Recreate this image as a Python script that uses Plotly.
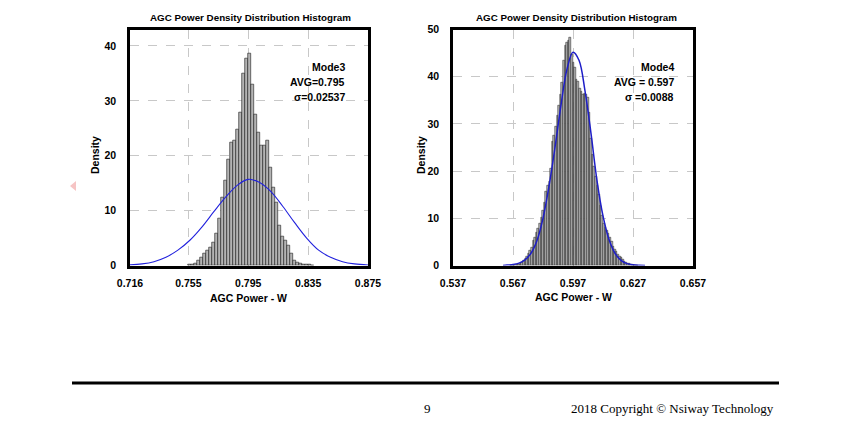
import plotly.graph_objects as go
import numpy as np

# page is rendered with the browser's default 8px body margin
OFF = 8
W, H = 850 - OFF, 427 - OFF

# ---------------- data ----------------
title_text = "AGC Power Density Distribution Histogram"
x_title = "AGC Power - W"
y_title = "Density"

# Mode3 histogram (density per bin)
m3_bin_start = 0.756
m3_bin_width = 0.002
m3_density = [0.1, 0.2, 0.4, 0.9, 1.5, 2.1, 2.7, 3.3, 4.2, 5.8, 8.6, 12.4, 15.5, 19.4,
              22.4, 22.8, 24.8, 27.9, 35.0, 37.7, 38.7, 33.0, 27.5, 24.3, 21.8, 21.8,
              22.7, 17.9, 14.2, 11.5, 7.3, 5.2, 4.5, 3.6, 2.1, 0.9, 0.5, 0.3, 0.2,
              0.15, 0.1, 0.05]
# Mode3 fitted curve
m3_curve_x = [0.716, 0.724, 0.732, 0.740, 0.748, 0.756, 0.764, 0.772, 0.780, 0.788,
              0.795, 0.802, 0.810, 0.818, 0.826, 0.834, 0.842, 0.850, 0.858, 0.866, 0.875]
m3_curve_y = [0.12, 0.3, 0.7, 1.5, 2.8, 4.6, 7.0, 9.8, 12.5, 14.7,
              15.7, 15.2, 13.5, 10.8, 7.8, 5.0, 2.8, 1.5, 0.7, 0.3, 0.1]
m3_ticks = [0.716, 0.755, 0.795, 0.835, 0.875]
m3_ticktext = ["0.716", "0.755", "0.795", "0.835", "0.875"]
m3_yticks = [0, 10, 20, 30, 40]
m3_notes = ["Mode3", "AVG=0.795", "σ=0.02537"]

# Mode4 histogram
m4_bin_start = 0.5660
m4_bin_width = 0.0008
m4_density = [0.05, 0.1, 0.1, 0.15, 0.2, 0.3, 0.4, 0.7, 1.0, 1.4, 1.9, 2.5, 3.1, 3.9,
              5.3, 6.0, 7.0, 7.8, 8.9, 10.1, 11.6, 13.4, 15.6, 17.0, 17.7,
              20.6, 26.2, 27.5, 29.5, 31.8, 34.0, 36.3, 38.8, 43.5, 46.6, 47.3, 47.6, 48.3,
              44.8, 43.0, 42.0, 39.5, 38.9, 37.5, 36.9, 36.2, 36.5, 36.2, 35.5,
              32.5, 27.0, 23.5, 21.0, 18.8, 17.0, 15.0, 12.8, 10.6, 8.8, 8.1,
              7.4, 6.8, 6.0, 5.0, 4.0, 3.4, 2.9, 2.4, 1.9, 1.6, 1.2, 0.9, 0.7, 0.5,
              0.4, 0.3, 0.2, 0.1, 0.08, 0.05]
m4_curve_x = [0.562, 0.564, 0.567, 0.570, 0.573, 0.576, 0.579, 0.582, 0.585, 0.588,
              0.591, 0.594, 0.597, 0.600, 0.603, 0.606, 0.609, 0.612, 0.615, 0.618,
              0.621, 0.624, 0.627, 0.630, 0.633]
m4_curve_y = [0.0, 0.1, 0.2, 0.5, 1.2, 2.6, 5.3, 10.0, 16.8, 25.0,
              34.0, 41.6, 45.2, 43.5, 37.0, 28.0, 18.0, 10.5, 5.5, 2.6,
              1.1, 0.4, 0.15, 0.05, 0.0]
m4_ticks = [0.537, 0.567, 0.597, 0.627, 0.657]
m4_ticktext = ["0.537", "0.567", "0.597", "0.627", "0.657"]
m4_yticks = [0, 10, 20, 30, 40, 50]
m4_notes = ["Mode4", "AVG = 0.597", "σ =0.0088"]

page_number = "9"
footer_text = "2018 Copyright © Nsiway Technology"

# ---------------- helpers (screen pixels -> paper fractions) ----------------
def px(x):
    return (x - OFF) / W

def py(y):
    return 1 - (y - OFF) / H

FONT = "Liberation Sans, Arial, sans-serif"
SERIF = "Liberation Serif, Times New Roman, serif"
BAR_FILL = "#b4b4b4"
GRID = "#c8c8c8"

m3_centers = m3_bin_start + m3_bin_width * np.arange(len(m3_density))
m4_centers = m4_bin_start + m4_bin_width * np.arange(len(m4_density))

fig = go.Figure()
fig.add_trace(go.Bar(x=m3_centers, y=m3_density, width=m3_bin_width,
                     marker=dict(color=BAR_FILL, line=dict(color="#1a1a1a", width=0.6)),
                     xaxis="x", yaxis="y", showlegend=False))
fig.add_trace(go.Scatter(x=m3_curve_x, y=m3_curve_y, mode="lines", line_shape="spline",
                         line=dict(color="#2222dd", width=1.1),
                         xaxis="x", yaxis="y", showlegend=False))
fig.add_trace(go.Bar(x=m4_centers, y=m4_density, width=m4_bin_width,
                     marker=dict(color=BAR_FILL, line=dict(color="#1a1a1a", width=0.5)),
                     xaxis="x2", yaxis="y2", showlegend=False))
fig.add_trace(go.Scatter(x=m4_curve_x, y=m4_curve_y, mode="lines", line_shape="spline",
                         line=dict(color="#1e1ec8", width=1.5),
                         xaxis="x2", yaxis="y2", showlegend=False))

tickfont = dict(family=FONT, size=10.5, color="black", weight="bold")
ydom = [py(265.5), py(29.5)]

common = dict(showline=True, linecolor="black", linewidth=2.5, mirror=True,
              showgrid=True, gridcolor=GRID, griddash="dash", gridwidth=1,
              zeroline=False, ticks="", tickfont=tickfont, fixedrange=True,
              automargin=False)

fig.update_layout(
    width=W, height=H, autosize=False,
    margin=dict(l=0, r=0, t=0, b=0, pad=0),
    paper_bgcolor="white", plot_bgcolor="white",
    bargap=0,
    xaxis=dict(domain=[px(130), px(368)], range=[0.716, 0.875], anchor="y",
               tickvals=m3_ticks, ticktext=m3_ticktext, ticklabelstandoff=6, **common),
    yaxis=dict(domain=ydom, range=[0, 43], anchor="x", tickvals=m3_yticks,
               ticklabelstandoff=9, **common),
    xaxis2=dict(domain=[px(453), px(693)], range=[0.537, 0.657], anchor="y2",
                tickvals=m4_ticks, ticktext=m4_ticktext, ticklabelstandoff=6, **common),
    yaxis2=dict(domain=ydom, range=[0, 50], anchor="x2", tickvals=m4_yticks,
                ticklabelstandoff=9, **common),
)

ann = []
def text(x, y, s, size=10, anchor="center", font=FONT, bold=True, angle=0):
    f = dict(family=font, size=size, color="black")
    if bold:
        f["weight"] = "bold"
    ann.append(dict(x=px(x), y=py(y), xref="paper", yref="paper", text=s,
                    showarrow=False, xanchor=anchor, yanchor="middle",
                    font=f, textangle=angle))

# titles
text(250, 17, title_text, size=9.8)
text(576, 17, title_text, size=9.8)
# axis titles
text(248, 298, x_title, size=10.5)
text(573, 297, x_title, size=10.5)
text(95, 155, y_title, size=10.5, angle=-90)
text(421, 155, y_title, size=10.5, angle=-90)
# stats notes
for i, s in enumerate(m3_notes):
    text(347, 67 + i * 15, s, size=10.5, anchor="right")
for i, s in enumerate(m4_notes):
    text(676, 67 + i * 15, s, size=10.5, anchor="right")
# footer
text(427, 408, page_number, size=13, font=SERIF, bold=False)
text(776, 408, footer_text, size=13, anchor="right", font=SERIF, bold=False)

fig.update_layout(annotations=ann)

fig.add_shape(type="line", xref="paper", yref="paper",
              x0=px(72), x1=px(779), y0=py(383), y1=py(383),
              line=dict(color="black", width=3))
fig.add_shape(type="path", xref="paper", yref="paper",
              path=f"M {px(76)} {py(181)} L {px(70)} {py(186)} L {px(76)} {py(191)} Z",
              fillcolor="#f6c4c4", line=dict(width=0))

fig.write_html("out.html")
